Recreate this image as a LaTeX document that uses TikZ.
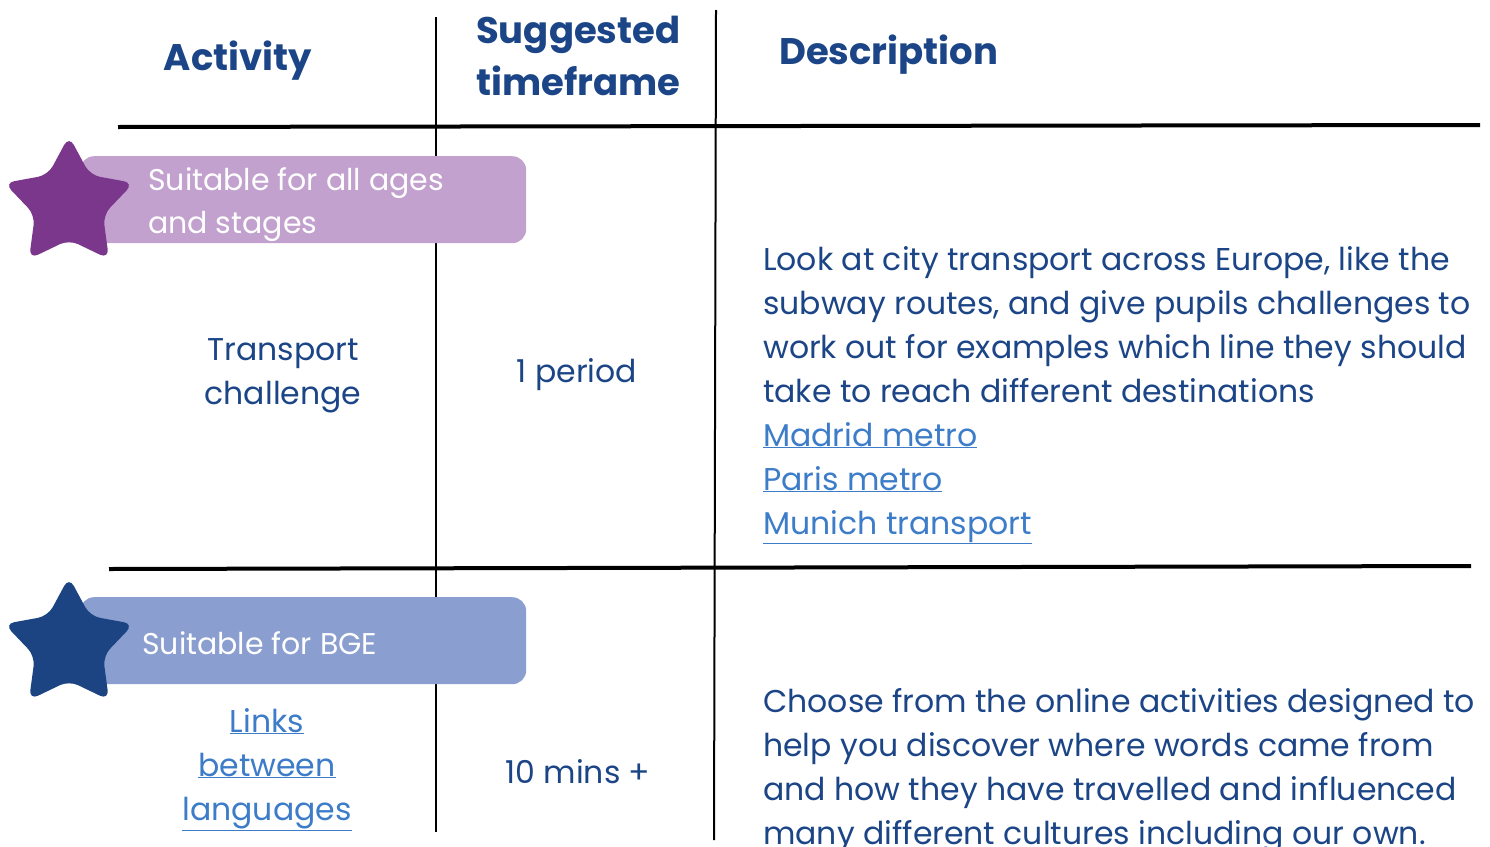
\documentclass[tikz,border=0pt]{standalone}
\usepackage{fontspec}
\setmainfont{Poppins}
\usepackage{xcolor}
\usetikzlibrary{shapes.geometric,positioning}
\definecolor{navy}{HTML}{1B4586}
\definecolor{linkblue}{HTML}{3C7CC8}
\definecolor{agesstar}{HTML}{7A378B}
\definecolor{agesband}{HTML}{C2A1CE}
\definecolor{bgestar}{HTML}{1C4482}
\definecolor{bgeband}{HTML}{8A9ED0}
\newcommand{\weblink}[1]{{\color{linkblue}\underline{#1}}}
\tikzset{
  headtext/.style={text=navy, font=\bfseries\fontsize{37}{52}\selectfont, inner sep=0pt},
  rowtext/.style={text=navy, font=\fontsize{31.5}{44}\selectfont, inner sep=0pt},
  bandtext/.style={text=white, font=\fontsize{30}{43}\selectfont, align=left, inner sep=0pt},
  band/.style={rounded corners=14pt, minimum width=446pt, minimum height=87pt, inner sep=0pt},
  badge/.style={star, star points=5, star point ratio=1.9, minimum size=136pt, inner sep=0pt, rounded corners=10pt},
  rule/.style={line width=4pt},
  colline/.style={line width=2pt}
}

\begin{document}
\begin{tikzpicture}[x=1pt,y=-1pt]
    \useasboundingbox (0,0) rectangle (1490,846);
    \clip (0,0) rectangle (1490,846);
    \fill[white] (0,0) rectangle (1490,846);

    \node[headtext, anchor=base] (activity) at (238,70) {Activity};
    \node[headtext, anchor=base west, align=left] (timeframe) at (476,95) {Suggested\\timeframe};
    \node[headtext, anchor=base west] (description) at (779,64) {Description};

    \draw[colline] (436,17) -- (436,832);
    \draw[colline] (716,10) -- (714,840);
    \draw[rule] (118,127) -- (1480,125);
    \draw[rule] (109,569) -- (1471,566);

    \node[band, fill=agesband, anchor=north west] (agesbox) at (80,156) {};
    \node[badge, fill=agesstar] (agesbadge) at (69,204) {};
    \node[bandtext, anchor=base west] (agestext) at (148,233) {Suitable for all ages\\and stages};

    \node[rowtext, align=center, anchor=base] (transport) at (283,404) {Transport\\challenge};
    \node[rowtext, anchor=base] (period) at (577,382) {1 period};
    \node[rowtext, align=left, anchor=base west] (transportdesc) at (763,534)
        {Look at city transport across Europe, like the\\
         subway routes, and give pupils challenges to\\
         work out for examples which line they should\\
         take to reach different destinations\\
         \weblink{Madrid metro}\\
         \weblink{Paris metro}\\
         \weblink{Munich transport}};

    \node[band, fill=bgeband, anchor=north west] (bgebox) at (80,597) {};
    \node[badge, fill=bgestar] (bgebadge) at (69,645) {};
    \node[bandtext, anchor=base west] (bgetext) at (142,654) {Suitable for BGE};

    \node[rowtext, align=center, anchor=base] (languages) at (267,820)
        {\weblink{Links}\\\weblink{between}\\\weblink{languages}};
    \node[rowtext, anchor=base] (mins) at (578,783) {10 mins +};
    \node[rowtext, align=left, anchor=base west] (languagesdesc) at (763,844)
        {Choose from the online activities designed to\\
         help you discover where words came from\\
         and how they have travelled and influenced\\
         many different cultures including our own.};
\end{tikzpicture}
\end{document}
